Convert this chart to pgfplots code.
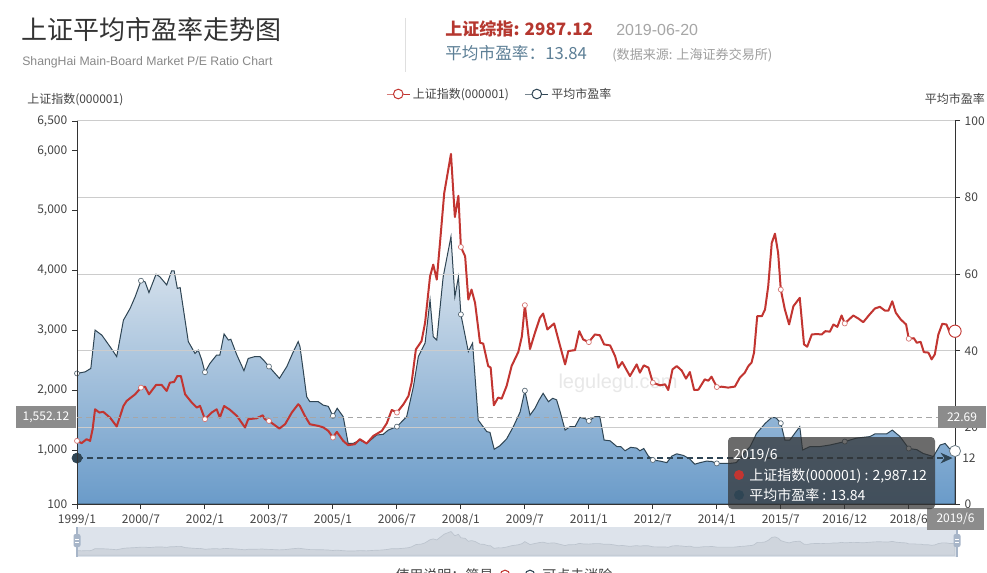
\documentclass[border=0pt]{standalone}
\usepackage{fontspec}
\setmainfont{Liberation Sans}
\newfontfamily\cjk{Noto Sans CJK SC}
\usepackage{pgfplots}
\pgfplotsset{compat=1.18}
\usepackage{pgfplotstable}
\usetikzlibrary{arrows.meta}

\definecolor{cred}{HTML}{C23531}
\definecolor{cdark}{HTML}{2F4554}
\definecolor{areatop}{HTML}{E2E9F0}
\definecolor{areabot}{HTML}{6A9BC9}
\definecolor{gridc}{HTML}{CCCCCC}
\definecolor{axisc}{HTML}{333333}
\definecolor{tickc}{HTML}{444444}
\definecolor{titlec}{HTML}{333333}
\definecolor{subc}{HTML}{888888}
\definecolor{hdrred}{HTML}{B5372F}
\definecolor{hdrblue}{HTML}{5D7F96}
\definecolor{ptgray}{HTML}{8C8C8C}
\definecolor{tipc}{HTML}{323232}
\definecolor{sliderbg}{HTML}{DDE3EB}
\definecolor{shadowc}{HTML}{CFD5DD}
\definecolor{shadowline}{HTML}{BCC4CE}
\definecolor{handlec}{HTML}{A7B5C8}

% index (000001), x = position index (0 = 1999/1, 18.05 per label step)
\pgfplotstableread{
k v
0 1155
1.3 1117
2.7 1183
3.7 1155
4.4 1350
5.1 1683
6.3 1628
7.4 1640
9.3 1545
11.2 1395
13.1 1738
14.0 1822
16.4 1933
18.05 2045
19.2 2060
20.3 1933
22.3 2089
23.9 2089
25.3 1989
26.2 2128
27.4 2140
28.3 2239
29.3 2239
30.5 1933
32.4 1794
33.8 1711
34.7 1740
36.1 1517
38.0 1628
39.4 1683
40.3 1545
41.5 1738
43.2 1672
45.1 1572
47.4 1378
48.3 1517
50.7 1533
52.4 1583
53.0 1517
54.15 1488
57.1 1361
58.7 1433
60.6 1628
62.4 1767
62.9 1738
64.3 1572
65.7 1433
68.1 1405
69.5 1380
70.9 1322
72.2 1211
73.3 1305
75.1 1155
76.5 1083
78.4 1100
79.8 1183
81.7 1111
83.6 1238
86.0 1322
87.4 1450
88.8 1672
90.25 1628
92.1 1767
93.5 1905
94.4 2128
95.6 2683
97.2 2822
98.2 3128
99.6 3905
100.5 4100
101.5 3850
102.4 4461
103.6 5295
105.5 5950
106.6 4895
107.6 5250
108.3 4395
109.5 4238
110.4 3517
111.3 3683
112.3 3461
113.7 2795
114.6 2780
116.0 2405
116.7 2380
117.6 1750
118.8 1878
119.8 1860
121.2 2072
122.6 2405
124.5 2640
125.5 2900
126.35 3422
127.8 2690
129.2 2962
130.6 3212
131.5 3283
132.7 3017
134.6 3117
136.3 2738
137.7 2433
138.6 2655
140.5 2672
141.7 2988
142.8 2850
144.4 2805
146.1 2933
147.5 2920
148.7 2767
150.4 2750
151.8 2572
152.7 2378
153.8 2472
156.0 2238
157.9 2433
158.8 2295
159.9 2417
161.2 2380
162.45 2128
164.5 2083
165.9 2100
166.8 2005
168.0 2350
169.2 2405
170.6 2330
171.8 2195
172.9 2305
174.1 2005
175.3 2010
177.1 2183
178.1 2160
179.0 2228
180.5 2055
181.9 2060
183.7 2045
185.6 2062
187.0 2212
188.4 2295
189.4 2405
190.3 2462
191.0 2628
191.9 3238
193.2 3238
194.1 3350
195.0 3738
196.0 4461
196.9 4617
197.8 4295
198.55 3683
199.7 3350
200.9 3100
202.1 3405
203.9 3545
205.1 2767
206.0 2728
207.3 2933
208.7 2940
210.1 2933
211.1 2988
212.4 2980
213.4 3100
214.5 3060
215.7 3250
216.6 3117
219.0 3250
220.4 3200
221.8 3138
223.5 3260
225.1 3367
226.5 3395
227.9 3333
228.9 3330
230.0 3488
231.0 3295
232.4 3183
233.9 3100
234.65 2862
236.1 2870
236.9 2795
238.0 2810
238.9 2638
240.2 2630
241.1 2517
242.0 2600
243.0 2933
244.1 3111
245.3 3100
246.3 2950
247.7 2987.12
}\idxdata

% average P/E ratio
\pgfplotstableread{
k v
0 34.1
2.3 34.5
3.9 35.4
5.1 45.4
7.0 44.1
9.3 41.1
11.2 38.5
13.1 48.0
15.0 51.1
16.4 54.1
18.05 58.3
19.2 58.0
20.3 55.2
22.3 60.0
23.4 59.3
25.3 57.2
26.7 60.9
27.4 60.9
28.3 56.3
29.1 56.5
31.4 42.4
33.3 39.3
34.2 40.2
35.2 37.6
36.1 34.4
37.5 36.7
39.4 38.9
40.3 38.9
41.5 44.4
42.7 42.8
43.4 43.0
45.1 38.9
47.1 34.8
48.3 38.0
50.2 38.5
51.6 38.5
52.6 37.6
54.15 35.9
57.1 32.8
59.2 35.9
60.8 39.3
62.4 42.4
62.9 41.1
63.8 35.0
64.8 28.0
65.7 26.7
68.1 26.7
69.5 25.8
70.9 25.5
72.2 23.0
73.4 25.0
75.1 22.8
76.5 15.8
77.9 15.8
79.8 16.7
81.7 15.8
84.5 18.0
86.4 18.2
87.8 19.3
90.25 20.2
93.0 22.8
94.9 30.6
96.3 38.5
98.2 42.0
99.6 53.3
100.5 43.7
101.5 42.8
103.3 59.3
105.5 69.8
106.6 54.1
107.6 59.3
108.3 49.5
110.4 39.8
111.6 42.0
113.2 21.9
115.6 18.9
116.5 18.7
117.7 14.3
119.3 15.2
121.2 17.0
123.1 20.2
125.0 24.0
126.35 29.6
127.8 23.2
129.2 25.0
130.4 27.2
131.5 28.9
133.0 26.7
134.2 27.6
135.3 27.2
136.3 24.1
137.7 19.3
139.1 20.2
140.5 20.2
141.9 22.6
143.3 22.3
144.4 21.7
146.1 22.8
147.5 22.8
148.7 16.7
150.4 16.5
152.3 15.0
153.4 15.0
154.6 13.9
156.2 14.8
157.9 14.6
158.8 13.9
159.9 14.5
161.2 12.5
162.45 11.5
164.5 11.2
166.4 10.8
167.8 12.5
169.2 13.1
171.0 12.7
172.7 11.9
174.3 10.4
175.8 10.8
177.6 11.2
179.1 11.1
180.5 10.6
182.3 10.6
184.2 10.6
186.0 10.8
188.4 13.5
189.9 15.0
191.7 18.4
194.1 21.0
196.0 22.6
197.2 22.5
198.55 21.1
199.7 16.7
201.1 16.7
203.9 20.2
204.7 14.1
206.8 15.0
209.6 15.0
212.4 15.4
214.3 15.8
216.6 16.3
219.9 17.2
223.7 17.6
225.1 18.3
228.4 18.3
230.0 19.3
232.2 17.6
234.65 14.5
236.9 14.2
238.7 13.2
241.6 12.4
243.5 15.4
244.9 15.8
246.1 14.5
247.7 13.84
}\pedata

% symbols shown at the label positions
\pgfplotstableread{
k v
0 1155
18.05 2045
36.1 1517
54.15 1488
72.2 1211
90.25 1628
108.3 4395
126.35 3422
144.4 2805
162.45 2128
180.5 2055
198.55 3683
216.6 3117
234.65 2862
}\idxmarks
\pgfplotstableread{
k v
0 34.1
18.05 58.3
36.1 34.4
54.15 35.9
72.2 23.0
90.25 20.2
108.3 49.5
126.35 29.6
144.4 21.7
162.45 11.5
180.5 10.6
198.55 21.1
216.6 16.3
234.65 14.5
}\pemarks

\pgfplotsset{
  base/.style={
    scale only axis, width=658.5pt, height=287.25pt,
    at={(57.75pt,51pt)}, anchor=south west,
    xmin=0, xmax=247.7,
    tick label style={font=\cjk\fontsize{9}{10}\selectfont, text=tickc},
    /pgf/number format/assume math mode=true,
    /pgf/number format/1000 sep={,},
    axis line style={draw=axisc, line width=0.75pt},
    major tick style={draw=axisc, line width=0.75pt},
    tick align=outside, major tick length=3.75pt,
  }
}

\begin{document}
\begin{tikzpicture}[x=0.75pt,y=0.75pt]
\path[use as bounding box] (0,0) rectangle (987,572);
\clip (0,0) rectangle (987,572);
\fill[white] (0,0) rectangle (987,572);

% ---------- header ----------
\node[anchor=base west, inner sep=0, text=titlec, font=\cjk\fontsize{19.5}{22}\selectfont] at (21,532) {上证平均市盈率走势图};
\node[anchor=base west, inner sep=0, text=subc, font=\fontsize{9.2}{11}\selectfont] at (22,506) {ShangHai Main-Board Market P/E Ratio Chart};
\draw[gray!25, line width=0.75pt] (405,554) -- (405,500);
\node[anchor=base west, inner sep=0, text=hdrred, font=\cjk\bfseries\fontsize{12.8}{15}\selectfont] at (445,536) {上证综指: 2987.12};
\node[anchor=base west, inner sep=0, text=gray!70, font=\fontsize{12}{14}\selectfont] at (616,536) {2019-06-20};
\node[anchor=base west, inner sep=0, text=hdrblue, font=\cjk\fontsize{12.5}{15}\selectfont] at (445,512) {平均市盈率：13.84};
\node[anchor=base west, inner sep=0, text=gray!75, font=\cjk\fontsize{9.8}{12}\selectfont] at (612,512) {(数据来源: 上海证券交易所)};

% axis titles
\node[anchor=base west, inner sep=0, text=tickc, font=\cjk\fontsize{9}{10}\selectfont] at (27,468) {上证指数(000001)};
\node[anchor=base east, inner sep=0, text=tickc, font=\cjk\fontsize{9}{10}\selectfont] at (985,468) {平均市盈率};

% watermark
\node[text=black!9, font=\fontsize{15}{17}\selectfont] at (618,189) {legulegu.com};

% ---------- P/E axis (right) ----------
\begin{axis}[base,
  ymin=0, ymax=100,
  axis x line*=bottom, axis y line*=right,
  ytick={0,20,40,60,80,100},
  ymajorgrids, grid style={draw=gridc, line width=0.75pt},
  xtick={0,18.05,36.1,54.15,72.2,90.25,108.3,126.35,144.4,162.45,180.5,198.55,216.6,234.65},
  xticklabels={1999/1,2000/7,2002/1,2003/7,2005/1,2006/7,2008/1,2009/7,2011/1,2012/7,2014/1,2015/7,2016/12,2018/6},
  axis on top,
]
\addplot[draw=cdark, line width=0.75pt, top color=areatop, bottom color=areabot] table[x=k,y=v] {\pedata} \closedcycle;
\addplot[only marks, mark=*, mark size=1.9pt, mark options={fill=white, draw=cdark!80, line width=0.5pt}] table[x=k,y=v] {\pemarks};
% mark line at 12
\addplot[cdark, line width=1.1pt, dash pattern=on 4.5pt off 3pt, -{Stealth[length=9pt,width=8pt]}] coordinates {(0,12) (247,12)};
\addplot[only marks, mark=*, mark size=3.8pt, mark options={fill=cdark, draw=cdark}] coordinates {(0,12)};
\addplot[only marks, mark=*, mark size=4.2pt, mark options={fill=white, draw=cdark!70, line width=0.6pt}] coordinates {(247.7,13.84)};
\end{axis}

% ---------- index axis (left) ----------
\begin{axis}[base,
  ymin=100, ymax=6500,
  axis x line=none, axis y line*=left,
  ytick={100,1000,2000,3000,4000,5000,6000,6500},
  legend columns=2,
  legend style={at={(0.482,1.0705)}, anchor=center, draw=none, fill=none,
    font=\cjk\fontsize{9}{10}\selectfont, text=tickc,
    /tikz/every even column/.append style={column sep=10pt}},
  legend cell align=left,
]
\addlegendimage{cred, line width=0.75pt, mark=*, mark size=3.6pt, mark options={fill=white, draw=cred, line width=0.75pt}}
\addlegendentry{上证指数(000001)}
\addlegendimage{cdark, line width=0.75pt, mark=*, mark size=3.6pt, mark options={fill=white, draw=cdark, line width=0.75pt}}
\addlegendentry{平均市盈率}
\addplot[forget plot, cred, line width=1.5pt, line join=round] table[x=k,y=v] {\idxdata};
\addplot[forget plot, only marks, mark=*, mark size=1.9pt, mark options={fill=white, draw=cred!70, line width=0.5pt}] table[x=k,y=v] {\idxmarks};
% axis pointer
\draw[gray!70, line width=0.75pt, dash pattern=on 4pt off 3pt] (axis cs:0,1552.12) -- (axis cs:247.7,1552.12);
\addplot[forget plot, only marks, mark=*, mark size=4.6pt, mark options={fill=white, draw=cred, line width=0.7pt}] coordinates {(247.7,2987.12)};
\end{axis}

% ---------- data zoom slider ----------
\fill[sliderbg] (77,15) rectangle (957,45);
\begin{axis}[scale only axis, width=658.5pt, height=22.5pt, at={(57.75pt,11.25pt)}, anchor=south west,
  xmin=0, xmax=247.7, ymin=-420, ymax=7080, hide axis]
\addplot[fill=shadowc, draw=shadowline, line width=0.5pt] table[x=k,y=v] {\idxdata} \closedcycle;
\end{axis}
\draw[handlec, line width=1.2pt] (77,15) -- (77,45);
\draw[handlec, line width=1.2pt] (957,15) -- (957,45);
\fill[handlec, rounded corners=1.5pt] (73.5,25) rectangle (80.5,38);
\fill[handlec, rounded corners=1.5pt] (953.5,25) rectangle (960.5,38);
\draw[white, line width=0.6pt] (75,30) -- (79,30) (75,33) -- (79,33);
\draw[white, line width=0.6pt] (955,30) -- (959,30) (955,33) -- (959,33);

% ---------- right side labels ----------
\node[anchor=west, inner sep=0, text=tickc, font=\cjk\fontsize{9}{10}\selectfont] at (962,114) {12};

% pointer labels
\fill[ptgray] (16,144) rectangle (76,166);
\node[text=white, font=\cjk\fontsize{9}{10}\selectfont] at (46,155) {1,552.12};
\fill[ptgray] (938,144) rectangle (986,166);
\node[text=white, font=\cjk\fontsize{9}{10}\selectfont] at (962,155) {22.69};
\fill[ptgray] (927,42) rectangle (984,64);
\node[text=white, font=\cjk\fontsize{9}{10}\selectfont] at (955.5,53) {2019/6};

% ---------- tooltip ----------
\fill[tipc, fill opacity=0.72, rounded corners=3pt] (728,63) rectangle (935,135);
\node[anchor=base west, inner sep=0, text=white, font=\cjk\fontsize{10.5}{12}\selectfont] at (733,113) {2019/6};
\fill[cred] (739,97) circle (3.75pt);
\node[anchor=base west, inner sep=0, text=white, font=\cjk\fontsize{10.5}{12}\selectfont] at (749,92) {上证指数(000001) : 2,987.12};
\fill[cdark] (739,77) circle (3.75pt);
\node[anchor=base west, inner sep=0, text=white, font=\cjk\fontsize{10.5}{12}\selectfont] at (749,72) {平均市盈率 : 13.84};

% ---------- bottom hint ----------
\node[anchor=base west, inner sep=0, text=tickc, font=\cjk\fontsize{10.5}{12}\selectfont] at (395,-8) {使用说明：简易};
\draw[cred, line width=0.8pt] (505,-3) circle (3.6pt);
\draw[cdark, line width=0.8pt] (530,-3) circle (3.6pt);
\node[anchor=base west, inner sep=0, text=tickc, font=\cjk\fontsize{10.5}{12}\selectfont] at (542,-8) {可点击消除};
\end{tikzpicture}
\end{document}
